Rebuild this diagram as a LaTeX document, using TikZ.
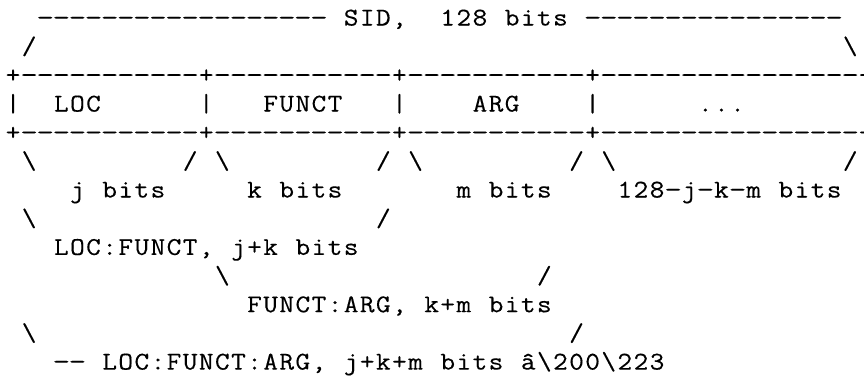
\documentclass[tikz,border=0pt]{standalone}
\usepackage{fontspec}
\usepackage{graphicx}
% typewriter face, slightly widened and darkened to a Courier-like cut
\newfontfamily\asciifont{Latin Modern Mono}[FakeStretch=1.12,FakeBold=0.3]
% fixed character cell used for every glyph of the ASCII figure
\newlength\cellw
\setlength\cellw{16.1pt}
\makeatletter
\def\asciirow#1{\asciirow@#1\relax}
\def\asciirow@#1{\ifx\relax#1\else\asciicell{#1}\expandafter\asciirow@\fi}
% hyphens are widened a little so that rule lines read as long dashes
\def\asciicell#1{\makebox[\cellw][c]{\ifx-#1\scalebox{1.2}[1]{-}\else#1\fi}}
\makeatother
\begin{document}
\begin{tikzpicture}[x=16.1pt,y=-28.67pt,
  txt/.style={font=\asciifont\fontsize{25.5pt}{28.67pt}\selectfont,
              text=black, inner sep=0pt, outer sep=0pt, anchor=base west}]
% one x unit = one character cell, one y unit = one text row (baselines)
\path[use as bounding box] (-0.3106,-0.8894) rectangle (53.354,12.4695);
\clip (-0.3106,-0.8894) rectangle (53.354,12.4695);

% row 0: overall width
\node[txt] (sid) at (2,0) {\asciirow{------------------~SID,~~128~bits~----------------}};
% row 1
\node[txt] (sidL) at (1,1) {\asciirow{/}};
\node[txt] (sidR) at (52,1) {\asciirow{\textbackslash}};
% rows 2-4: the field boxes
\node[txt] (topRule) at (0,2) {\asciirow{+-----------+-----------+-----------+----------------+}};
\node[txt] (b0) at (0,3) {\asciirow{|}};
\node[txt] (loc) at (3,3) {\asciirow{LOC}};
\node[txt] (b1) at (12,3) {\asciirow{|}};
\node[txt] (funct) at (16,3) {\asciirow{FUNCT}};
\node[txt] (b2) at (24,3) {\asciirow{|}};
\node[txt] (arg) at (29,3) {\asciirow{ARG}};
\node[txt] (b3) at (36,3) {\asciirow{|}};
\node[txt] (rest) at (43,3) {\asciirow{...}};
\node[txt] (b4) at (53,3) {\asciirow{|}};
\node[txt] (botRule) at (0,4) {\asciirow{+-----------+-----------+-----------+----------------+}};
% row 5: braces under each field
\node[txt] (s1) at (1,5) {\asciirow{\textbackslash}};
\node[txt] (s2) at (11,5) {\asciirow{/}};
\node[txt] (s3) at (13,5) {\asciirow{\textbackslash}};
\node[txt] (s4) at (23,5) {\asciirow{/}};
\node[txt] (s5) at (25,5) {\asciirow{\textbackslash}};
\node[txt] (s6) at (35,5) {\asciirow{/}};
\node[txt] (s7) at (37,5) {\asciirow{\textbackslash}};
\node[txt] (s8) at (52,5) {\asciirow{/}};
% row 6: field widths
\node[txt] (jbits) at (4,6) {\asciirow{j~bits}};
\node[txt] (kbits) at (15,6) {\asciirow{k~bits}};
\node[txt] (mbits) at (28,6) {\asciirow{m~bits}};
\node[txt] (rbits) at (38,6) {\asciirow{128-j-k-m~bits}};
% rows 7-8: LOC:FUNCT
\node[txt] (lf1) at (1,7) {\asciirow{\textbackslash}};
\node[txt] (lf2) at (23,7) {\asciirow{/}};
\node[txt] (locfunct) at (3,8) {\asciirow{LOC:FUNCT,~j+k~bits}};
% rows 9-10: FUNCT:ARG
\node[txt] (fa1) at (13,9) {\asciirow{\textbackslash}};
\node[txt] (fa2) at (33,9) {\asciirow{/}};
\node[txt] (functarg) at (15,10) {\asciirow{FUNCT:ARG,~k+m~bits}};
% rows 11-12: LOC:FUNCT:ARG
\node[txt] (lfa1) at (1,11) {\asciirow{\textbackslash}};
\node[txt] (lfa2) at (35,11) {\asciirow{/}};
\node[txt] (locfunctarg) at (3,12) {\asciirow{--~LOC:FUNCT:ARG,~j+k+m~bits~â\textbackslash200\textbackslash223}};
\end{tikzpicture}
\end{document}
